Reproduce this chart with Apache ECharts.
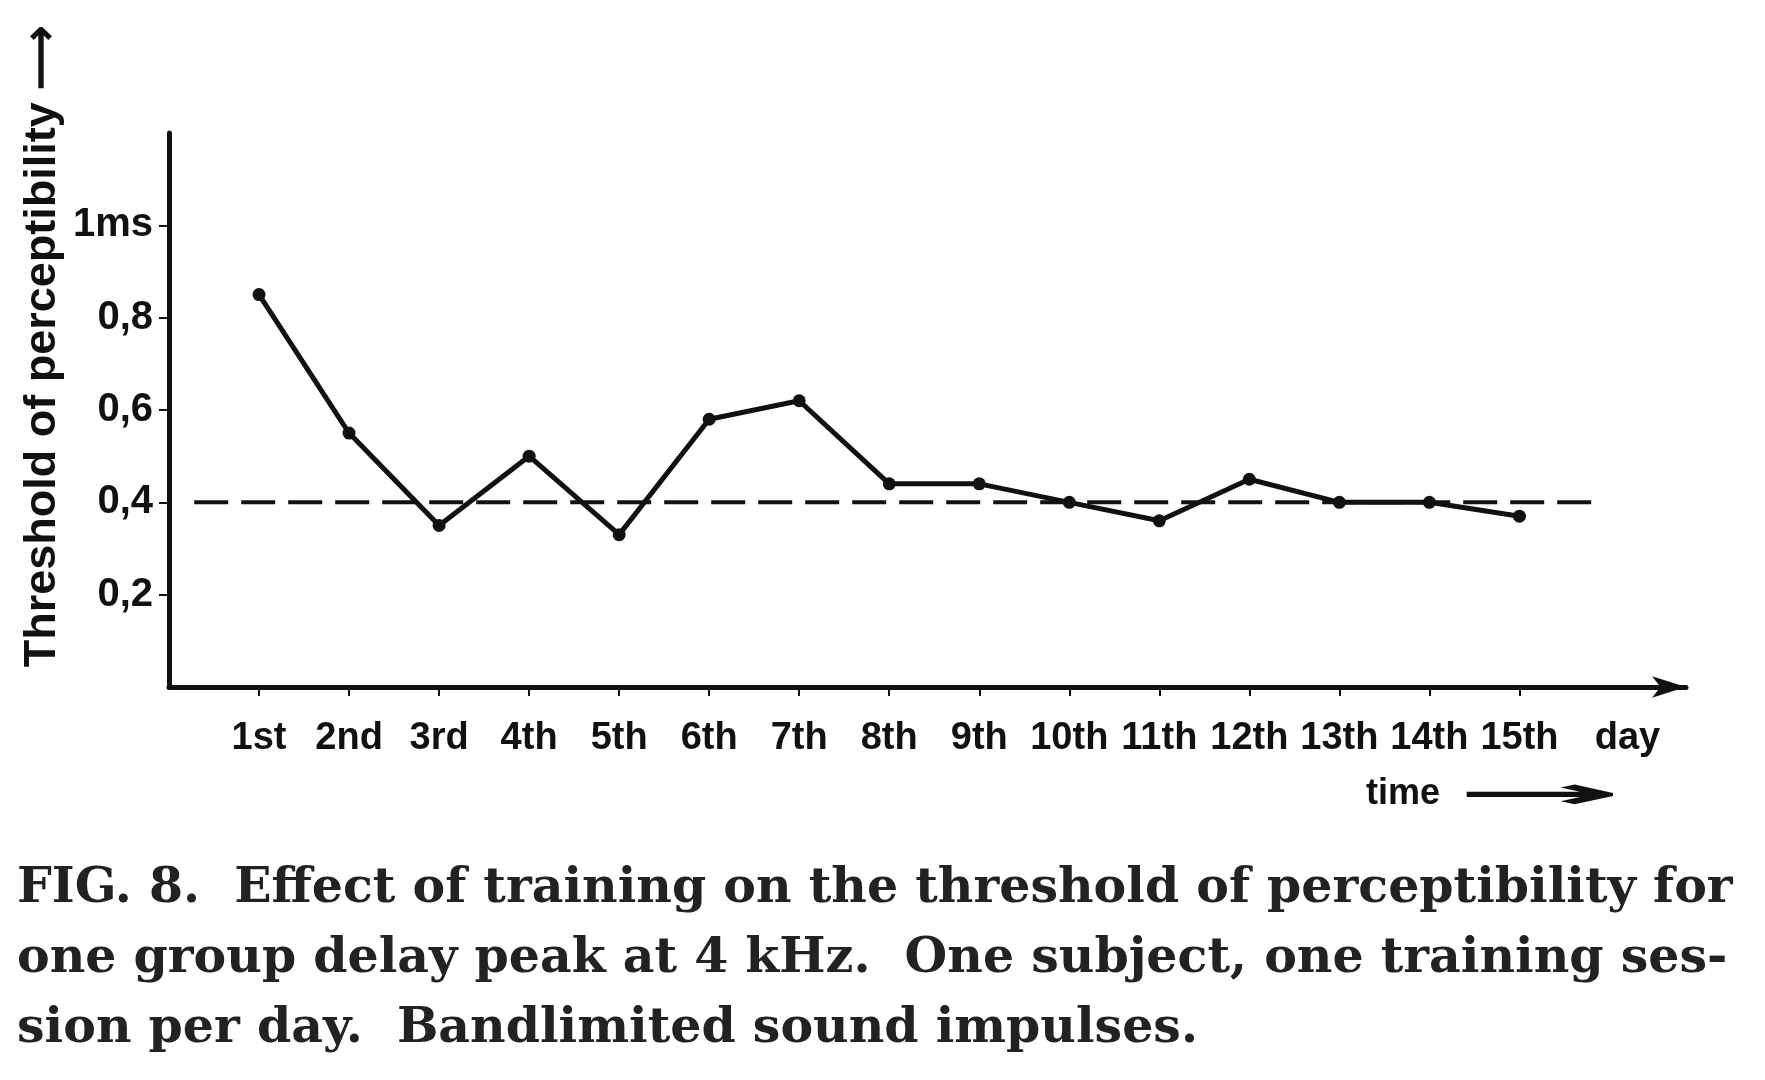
<!DOCTYPE html>
<html>
<head>
<meta charset="utf-8">
<script src="https://cdn.jsdelivr.net/npm/echarts@6/dist/echarts.min.js"></script>
<style>
  html, body { margin:0; padding:0; background:#fff; }
  #chart { width:1765px; height:1080px; }
</style>
</head>
<body>
<div id="chart"></div>
<script>
/* days on the time axis */
const DAY_X = [1, 2, 3, 4, 5, 6, 7, 8, 9, 10, 11, 12, 13, 14, 15]
const DAY_NAMES = ['1st', '2nd', '3rd', '4th', '5th', '6th', '7th', '8th', '9th', '10th', '11th', '12th', '13th', '14th', '15th']
const DAY_UNIT_X = 16.2
const DAY_UNIT = 'day'

/* threshold per day (ms) */
const THRESHOLD = [0.85, 0.55, 0.35, 0.50, 0.33, 0.58, 0.62, 0.44, 0.44, 0.40, 0.36, 0.45, 0.40, 0.40, 0.37]

/* dashed reference level */
const REF_X = [0.28, 15.86]
const REF_Y = [0.4, 0.4]

/* y ticks */
const Y_TICKS = [0.2, 0.4, 0.6, 0.8, 1.0]
const Y_LABELS = ['0,2', '0,4', '0,6', '0,8', '1ms']

const CAPTION = [
  'FIG. 8.  Effect of training on the threshold of perceptibility for',
  'one group delay peak at 4 kHz.  One subject, one training ses-',
  'sion per day.  Bandlimited sound impulses.'
]

const INK = '#111'
const SANS = '"Liberation Sans", Arial, sans-serif'
const SERIF = '"DejaVu Serif", "Liberation Serif", serif'

const chart = echarts.init(document.getElementById('chart'))

const pts = THRESHOLD.map((v, i) => [DAY_X[i], v])
const refPts = REF_X.map((x, i) => [x, REF_Y[i]])

const xLabel = v => {
  if (v === DAY_UNIT_X) return DAY_UNIT
  const i = DAY_X.indexOf(v)
  return i >= 0 ? DAY_NAMES[i] : ''
}
const yLabel = v => {
  const i = Y_TICKS.findIndex(t => Math.abs(t - v) < 1e-6)
  return i >= 0 ? Y_LABELS[i] : ''
}

// figure caption, one title per printed line
const captionTitles = CAPTION.map((t, i) => ({
  text: t,
  left: 17,
  top: 865 + i * 70,
  padding: 0,
  textStyle: { fontFamily: SERIF, fontSize: 49, fontWeight: 'bold', color: '#222' }
}))

chart.setOption({
  backgroundColor: '#fff',
  animation: false,
  title: captionTitles.concat([{
    text: 'time',
    left: 1366,
    top: 776,
    padding: 0,
    textStyle: { fontFamily: SANS, fontSize: 36, fontWeight: 'bold', color: INK }
  }]),
  graphic: [
    {
      type: 'text',
      x: 43,
      y: 346,
      rotation: Math.PI / 2,
      style: {
        text: 'Threshold of perceptibility ⟶',
        font: 'bold 45px ' + SANS,
        fill: INK,
        align: 'center',
        verticalAlign: 'middle'
      }
    },
    {
      type: 'text',
      x: 1538,
      y: 797,
      scaleX: 5,
      scaleY: 1.1,
      style: {
        text: '→',
        font: 'bold 40px "DejaVu Sans", sans-serif',
        fill: INK,
        align: 'center',
        verticalAlign: 'middle'
      }
    }
  ],
  grid: { left: 169, right: 79, top: 133, bottom: 393 },
  xAxis: {
    type: 'value',
    min: 0,
    max: 16.85,
    interval: 1,
    splitLine: { show: false },
    axisLine: {
      lineStyle: { color: INK, width: 5 },
      symbol: ['none', 'arrow'],
      symbolSize: [16, 34]
    },
    axisTick: { customValues: DAY_X, length: 9, lineStyle: { color: INK, width: 2 } },
    axisLabel: {
      customValues: DAY_X.concat([DAY_UNIT_X]),
      formatter: xLabel,
      margin: 33,
      fontFamily: SANS,
      fontWeight: 'bold',
      fontSize: 38,
      color: INK
    }
  },
  yAxis: {
    type: 'value',
    min: 0,
    max: 1.2,
    interval: 0.2,
    splitLine: { show: false },
    axisLine: { show: true, lineStyle: { color: INK, width: 5 } },
    axisTick: { customValues: Y_TICKS, length: 10, lineStyle: { color: INK, width: 2 } },
    axisLabel: {
      customValues: Y_TICKS,
      formatter: yLabel,
      margin: 16,
      fontFamily: SANS,
      fontWeight: 'bold',
      fontSize: 40,
      color: INK
    }
  },
  series: [
    {
      name: 'reference',
      type: 'line',
      data: refPts,
      symbol: 'none',
      silent: true,
      lineStyle: { color: INK, width: 4, type: [34, 13] },
      z: 2
    },
    {
      name: 'threshold',
      type: 'line',
      data: pts,
      symbol: 'circle',
      symbolSize: 13,
      itemStyle: { color: INK },
      lineStyle: { color: INK, width: 5 },
      z: 3
    }
  ]
})
</script>
</body>
</html>
